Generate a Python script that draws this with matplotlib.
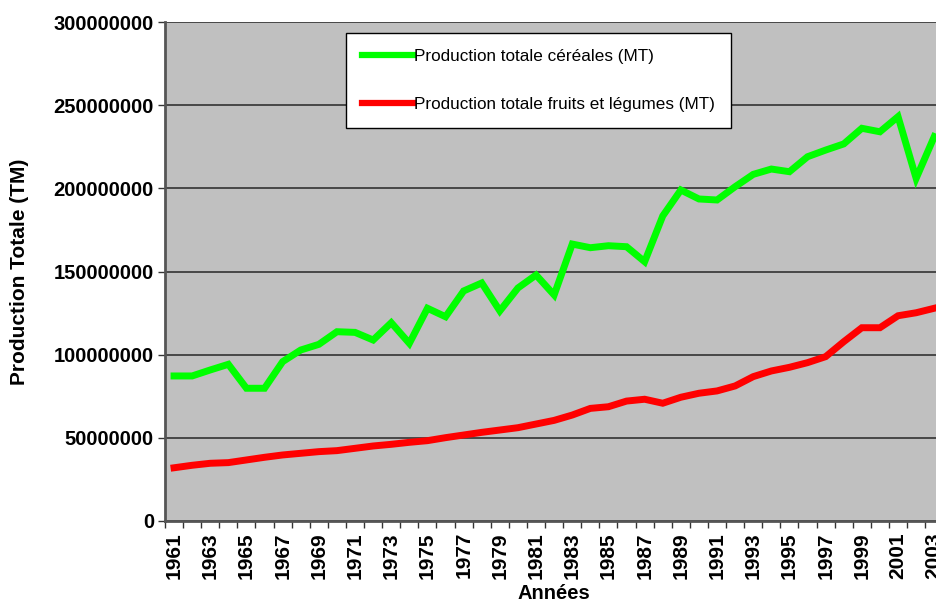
import matplotlib.pyplot as plt
import numpy as np

plt.rcParams['font.family'] = ['Liberation Sans', 'DejaVu Sans']

years = list(range(1961, 2004))

cereales = [87.2, 87.2, 90.8, 94.2, 79.8, 79.8, 95.8, 102.8, 106.2, 113.8,
            113.4, 108.8, 119.2, 106.8, 127.9, 122.8, 138.3, 143.1, 126.3, 140.1,
            147.9, 135.9, 166.5, 164.3, 165.5, 164.9, 155.9, 183.4, 199.0, 193.6,
            193.0, 201.0, 208.4, 211.6, 210.0, 219.0, 223.0, 226.7, 236.1, 234.0,
            243.1, 206.0, 231.1]

fruits_legumes = [32.0, 33.5, 34.7, 35.1, 36.7, 38.3, 39.7, 40.7, 41.7, 42.3,
                  43.7, 45.1, 46.1, 47.3, 48.3, 50.1, 51.7, 53.3, 54.7, 56.1,
                  58.3, 60.5, 63.7, 67.7, 68.7, 72.1, 73.2, 70.8, 74.4, 76.8,
                  78.2, 81.2, 86.8, 90.2, 92.4, 95.2, 98.8, 107.8, 116.2, 116.2,
                  123.4, 125.2, 127.9]

cereales = np.array(cereales) * 1e6
fruits_legumes = np.array(fruits_legumes) * 1e6

fig = plt.figure(figsize=(9.37, 6.06), dpi=100)
ax = fig.add_axes([165 / 937, 85 / 606, 778.3 / 937, 499 / 606])
ax.set_facecolor('#C0C0C0')

ax.plot(years, cereales, color='#00FF00', linewidth=5, solid_joinstyle='miter',
        label='Production totale céréales (MT)', zorder=3)
ax.plot(years, fruits_legumes, color='#FF0000', linewidth=5, solid_joinstyle='miter',
        label='Production totale fruits et légumes (MT)', zorder=3)

ax.set_xlim(1960.5, 2003.5)
ax.set_ylim(0, 300000000)

ax.set_yticks(np.arange(0, 300000001, 50000000))
ax.set_yticklabels([str(v) for v in range(0, 300000001, 50000000)],
                   fontsize=14.5, fontweight='bold')
ax.yaxis.grid(True, color='#333333', linewidth=1.2)
ax.set_axisbelow(True)

ax.set_xticks(years[::2])
ax.set_xticklabels([str(y) for y in years[::2]], rotation=90,
                   fontsize=15, fontweight='bold')
ax.set_xticks(np.arange(1960.5, 2004, 1), minor=True)
ax.tick_params(axis='x', which='major', length=0, pad=8)
ax.tick_params(axis='x', which='minor', length=5, width=1, color='#333333')
ax.tick_params(axis='y', length=5, width=1, color='#333333', pad=3)

for side in ['top', 'right']:
    ax.spines[side].set_visible(False)
for side in ['left', 'bottom']:
    ax.spines[side].set_color('#555555')
    ax.spines[side].set_linewidth(2)

ax.set_xlabel('Années', fontsize=14.5, fontweight='bold', labelpad=4)
ax.set_ylabel('Production Totale (TM)', fontsize=15, fontweight='bold', labelpad=18)

leg = ax.legend(loc='upper left', bbox_to_anchor=(346 / 937, 1 - 33 / 606),
                bbox_transform=fig.transFigure, borderaxespad=0,
                fontsize=12.3, frameon=True, fancybox=False, framealpha=1,
                handlelength=3.0, handletextpad=0.05, labelspacing=1.9,
                borderpad=0.95)
leg.get_frame().set_edgecolor('black')
leg.get_frame().set_linewidth(1)
for line in leg.get_lines():
    line.set_linewidth(4.5)

fig.savefig('out.png', dpi=100)
